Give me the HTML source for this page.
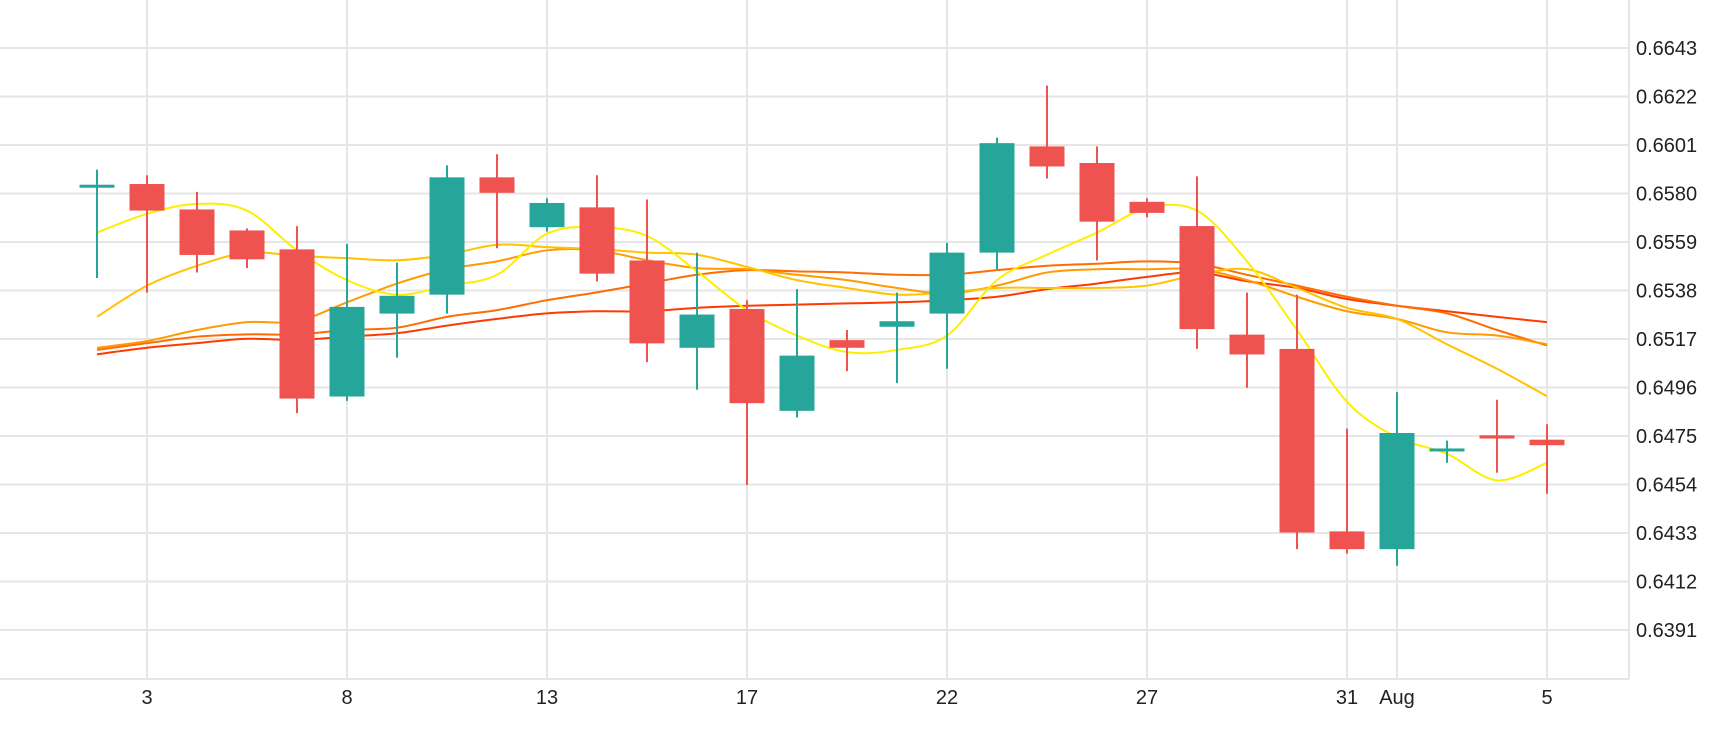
<!DOCTYPE html>
<html><head><meta charset="utf-8"><style>
html,body{margin:0;padding:0;background:#fff;}
svg{display:block;font-family:"Liberation Sans",sans-serif;}
</style></head><body>
<svg id="chart" width="1730" height="730" viewBox="0 0 1730 730" xmlns="http://www.w3.org/2000/svg">
<g id="grid"></g>
<g id="mas"></g>
<g id="candles"></g>
<g id="axes"></g>
</svg>
<script>
const opens=[.65836,.65841,.65731,.65640,.65558,.64921,.65280,.65362,.65870,.65654,.65740,.65510,.65132,.65300,.64859,.65165,.65223,.65280,.65544,.66004,.65932,.65764,.65659,.65189,.65127,.64337,.64260,.64696,.64753,.64734];
const highs=[.65903,.65879,.65807,.65649,.65659,.65582,.65501,.65922,.65970,.65779,.65879,.65774,.65544,.65338,.65386,.65209,.65371,.65587,.66042,.66267,.66004,.65779,.65874,.65371,.65362,.64782,.64940,.64730,.64907,.64801];
const lows=[.65434,.65371,.65458,.65477,.64849,.64902,.65089,.65280,.65563,.65635,.65419,.65070,.64950,.64538,.64830,.65031,.64979,.65041,.65472,.65865,.65510,.65697,.65127,.64959,.64260,.64241,.64188,.64634,.64591,.64500];
const closes=[.65838,.65726,.65534,.65515,.64912,.65309,.65357,.65870,.65803,.65759,.65453,.65151,.65276,.64892,.65098,.65132,.65247,.65544,.66018,.65917,.65678,.65716,.65213,.65103,.64332,.64260,.64763,.64696,.64739,.64710];
const ma5=[.65631,.65712,.65755,.65726,.65554,.65425,.65362,.65401,.65448,.65626,.65654,.65616,.65463,.65295,.65185,.65113,.65123,.65185,.65425,.65535,.65631,.65736,.65726,.65506,.65209,.64898,.64744,.64673,.64558,.64634];
const ma10=[.65266,.65401,.65487,.65544,.65530,.65520,.65511,.65535,.65578,.65568,.65559,.65544,.65535,.65482,.65425,.65391,.65362,.65372,.65391,.65391,.65391,.65401,.65448,.65472,.65391,.65305,.65257,.65147,.65041,.64922];
const ma20=[.65132,.65161,.65209,.65243,.65247,.65329,.65410,.65472,.65506,.65554,.65554,.65511,.65477,.65472,.65448,.65425,.65391,.65367,.65401,.65458,.65472,.65472,.65472,.65425,.65353,.65290,.65257,.65199,.65185,.65147];
const ma30=[.65123,.65152,.65180,.65190,.65190,.65209,.65219,.65266,.65295,.65338,.65372,.65410,.65448,.65468,.65463,.65458,.65448,.65448,.65468,.65487,.65496,.65506,.65496,.65448,.65401,.65353,.65314,.65281,.65209,.65142];
const ma60=[.65104,.65132,.65152,.65171,.65166,.65180,.65195,.65228,.65257,.65281,.65290,.65290,.65305,.65314,.65319,.65324,.65329,.65338,.65353,.65386,.65410,.65439,.65458,.65420,.65391,.65343,.65314,.65290,.65266,.65243];
const yTicks=[0.6643,0.6622,0.6601,0.6580,0.6559,0.6538,0.6517,0.6496,0.6475,0.6454,0.6433,0.6412,0.6391];
const xTickIdx=[1,5,9,13,17,21,25,26,29];
const xTickLabels=["3","8","13","17","22","27","31","Aug","5"];

const NS="http://www.w3.org/2000/svg";
const PR=1629,PB=679;
function x(i){return 97+50*i;}
function y(v){return 48+(0.6643-v)*48.5/0.0021;}
function mk(tag,parent,attrs){const e=document.createElementNS(NS,tag);for(const k in attrs)e.setAttribute(k,attrs[k]);parent.appendChild(e);return e;}
const grid=document.getElementById('grid'),axes=document.getElementById('axes'),cg=document.getElementById('candles'),mg=document.getElementById('mas');
yTicks.forEach(t=>{
  const l=mk('line',grid,{x1:0,x2:PR,y1:y(t),y2:y(t),stroke:'#e6e6e6','stroke-width':2});
  
  
  const tx=mk('text',axes,{x:1636,y:y(t)+7,'font-size':20,fill:'#222'});
  tx.textContent=t.toFixed(4);
  
  
});
xTickIdx.forEach((i,k)=>{
  const l=mk('line',grid,{x1:x(i),x2:x(i),y1:0,y2:PB,stroke:'#e6e6e6','stroke-width':2});
  
  
  const tx=mk('text',axes,{x:x(i),y:704,'font-size':20,fill:'#222','text-anchor':'middle'});
  tx.textContent=xTickLabels[k];
  
  
});
const bl=mk('line',axes,{x1:0,x2:PR,y1:PB,y2:PB,stroke:'#e6e6e6','stroke-width':2});


const rl=mk('line',axes,{x1:PR,x2:PR,y1:0,y2:PB,stroke:'#e6e6e6','stroke-width':2});



function smooth(vals){
  const p=vals.map((v,i)=>[x(i),y(v)]);
  let d='M'+p[0][0]+','+p[0][1];
  for(let i=0;i<p.length-1;i++){
    const p0=p[Math.max(0,i-1)],p1=p[i],p2=p[i+1],p3=p[Math.min(p.length-1,i+2)];
    d+=' C'+(p1[0]+(p2[0]-p0[0])/6)+','+(p1[1]+(p2[1]-p0[1])/6)+' '+(p2[0]-(p3[0]-p1[0])/6)+','+(p2[1]-(p3[1]-p1[1])/6)+' '+p2[0]+','+p2[1];
  }
  return d;
}
[[ma60,'#ff3a00','ma60-line'],[ma30,'#ff6d00','ma30-line'],[ma20,'#ff9a00','ma20-line'],[ma10,'#ffc300','ma10-line'],[ma5,'#ffee00','ma5-line']].forEach(s=>{
  const p=mk('path',mg,{d:smooth(s[0]),fill:'none',stroke:s[1],'stroke-width':2});
  
  
});
for(let i=0;i<opens.length;i++){
  const up=closes[i]>=opens[i];const c=up?'#26a69a':'#ef5350';
  const g=mk('g',cg,{});
  
  
  mk('line',g,{x1:x(i),x2:x(i),y1:y(highs[i]),y2:y(lows[i]),stroke:c,'stroke-width':2});
  const top=y(Math.max(opens[i],closes[i])),bot=y(Math.min(opens[i],closes[i]));
  mk('rect',g,{x:x(i)-17.5,y:top,width:35,height:Math.max(3,bot-top),fill:c});
}
</script>
</body></html>
